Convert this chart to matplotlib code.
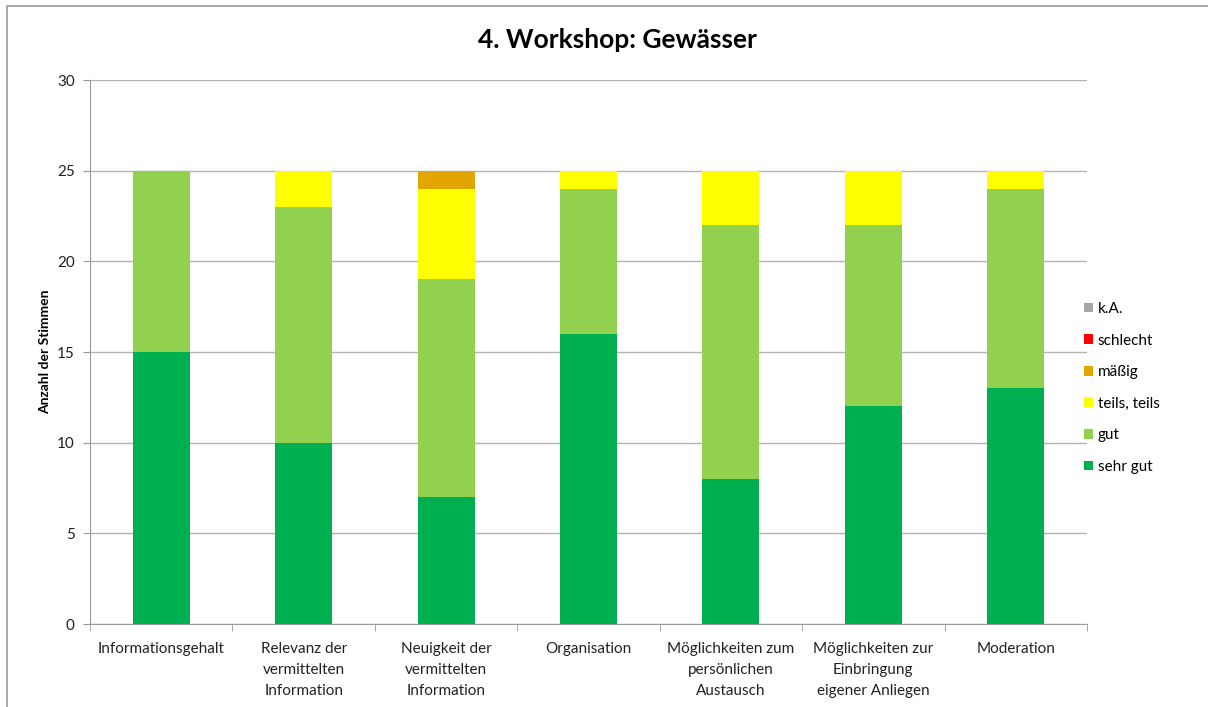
import matplotlib
matplotlib.use("Agg")
import matplotlib.pyplot as plt
from matplotlib.patches import Rectangle
import numpy as np

plt.rcParams['font.family'] = ['Lato', 'DejaVu Sans']

categories = ['Informationsgehalt', 'Relevanz der\nvermittelten\nInformation',
              'Neuigkeit der\nvermittelten\nInformation', 'Organisation',
              'Möglichkeiten zum\npersönlichen\nAustausch',
              'Möglichkeiten zur\nEinbringung\neigener Anliegen', 'Moderation']
sehr_gut = [15, 10, 7, 16, 8, 12, 13]
gut = [10, 13, 12, 8, 14, 10, 11]
teils = [0, 2, 5, 1, 3, 3, 1]
maessig = [0, 0, 1, 0, 0, 0, 0]
schlecht = [0, 0, 0, 0, 0, 0, 0]
ka = [0, 0, 0, 0, 0, 0, 0]

series = [('sehr gut', sehr_gut, '#00B050'),
          ('gut', gut, '#92D050'),
          ('teils, teils', teils, '#FFFF00'),
          ('mäßig', maessig, '#E3A600'),
          ('schlecht', schlecht, '#FF0000'),
          ('k.A.', ka, '#A6A6A6')]

fig = plt.figure(figsize=(12.08, 7.07), dpi=100)
ax = fig.add_axes([90/1208, 1-624/707, (1087-90)/1208, (624-80)/707])

x = np.arange(len(categories))
bottom = np.zeros(len(categories))
handles = []
for name, vals, col in series:
    b = ax.bar(x, vals, 0.4, bottom=bottom, color=col, label=name, zorder=3)
    handles.append(b)
    bottom += np.array(vals)

ax.set_xlim(-0.5, len(categories) - 0.5)
ax.set_ylim(0, 30)
ax.set_yticks(range(0, 31, 5))
ax.yaxis.grid(True, color='#B3B3B3', linewidth=1, zorder=0)
ax.set_xticks(x)
ax.set_xticklabels(categories, fontsize=11, color='#222222', linespacing=1.65)
ax.tick_params(axis='x', length=0, pad=13)
ax.set_xticks(np.arange(-0.5, len(categories), 1), minor=True)
ax.tick_params(axis='x', which='minor', length=5, color='#999999')
ax.tick_params(axis='y', length=5, color='#999999', labelsize=11, labelcolor='#222222', pad=6)
for s in ['top', 'right']:
    ax.spines[s].set_visible(False)
for s in ['left', 'bottom']:
    ax.spines[s].set_color('#999999')
ax.set_ylabel('Anzahl der Stimmen', fontsize=10, fontweight='bold', labelpad=4)

fig.suptitle('4. Workshop: Gewässer', fontsize=19, fontweight='bold', x=0.511, y=0.96)

leg = ax.legend(handles[::-1], [s[0] for s in series][::-1], loc='center left',
                bbox_to_anchor=(0.983, 0.434), frameon=False, fontsize=11,
                handlelength=0.6, handleheight=0.6, handletextpad=0.3,
                labelspacing=1.15)

fig.patches.append(Rectangle((7/1208, -0.05), 1.0, 1.05 - 6/707, transform=fig.transFigure,
                             fill=False, edgecolor='#999999', linewidth=1.2))

fig.savefig('out.png', dpi=100)
